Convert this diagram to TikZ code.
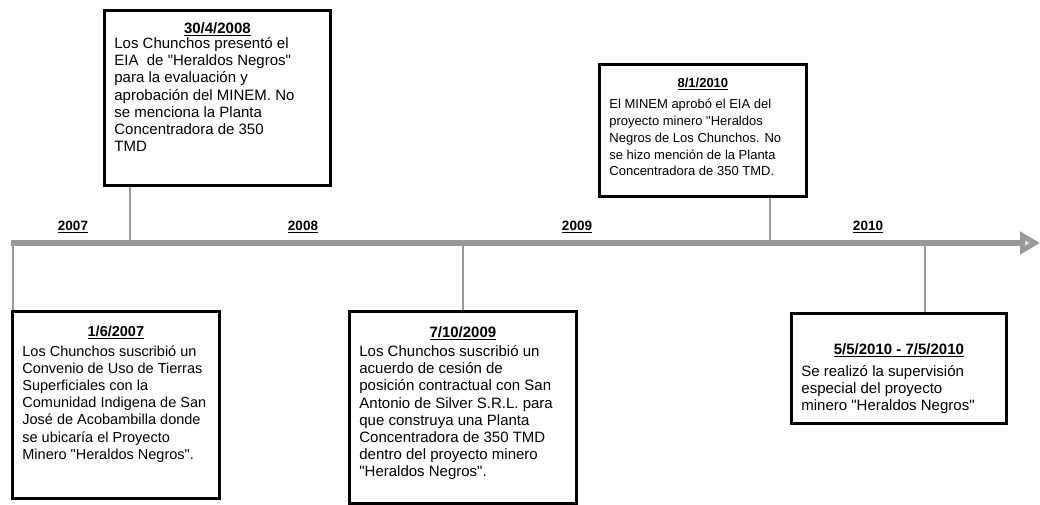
\documentclass[tikz,border=0pt]{standalone}
\usepackage{fontspec}
\setmainfont{Liberation Sans}[Ligatures=TeXOff]
\usetikzlibrary{arrows.meta}

\newcommand{\evhead}[2][2pt]{{\centering\underline{\textbf{#2}}\par}\vspace{#1}}

\begin{document}
\begin{tikzpicture}[
    x=1pt, y=-1pt,
    font=\fontsize{15}{17.2}\selectfont,
    evbox/.style={draw=black, line width=2.8pt, fill=white, anchor=north west,
        inner xsep=10pt, inner ysep=0pt},
    yearlbl/.style={font=\fontsize{13.5}{15}\selectfont\bfseries},
    link/.style={draw=black!40, line width=2.3pt},
]

\useasboundingbox (0,0) rectangle (1040,504);

% Time axis
\coordinate (axstart) at (11,243);
\coordinate (axend) at (1040,243);
\draw[black!40, line width=5.5pt, -{Triangle[length=20pt, width=22pt, fill=black!12]}] (axstart) -- (axend);

% Years
\node[yearlbl] (y2007) at (73,227) {\underline{2007}};
\node[yearlbl] (y2008) at (303,227) {\underline{2008}};
\node[yearlbl] (y2009) at (577,227) {\underline{2009}};
\node[yearlbl] (y2010) at (868,227) {\underline{2010}};

% Events above the axis
\node[evbox] (ev0408) at (103,9) {\parbox[c][175pt][t]{206pt}{\raggedright
    \vspace*{12pt}
    \evhead[-2pt]{30/4/2008}
    Los Chunchos presentó el\\
    EIA\ \ de "Heraldos Negros"\\
    para la evaluación y\\
    aprobación del MINEM. No\\
    se menciona la Planta\\
    Concentradora de 350\\
    TMD}};

\node[evbox] (ev0110) at (598,63) {\parbox[c][132pt][t]{187pt}{\raggedright
    \fontsize{13}{16.8}\selectfont
    \vspace*{14pt}
    \evhead[4pt]{8/1/2010}
    El MINEM aprobó el EIA del\\
    proyecto minero "Heraldos\\
    Negros de Los Chunchos. No\\
    se hizo mención de la Planta\\
    Concentradora de 350 TMD.}};

% Events below the axis
\node[evbox] (ev0607) at (11,310) {\parbox[c][187pt][t]{187pt}{\raggedright
    \fontsize{14.5}{17.2}\selectfont
    \vspace*{15pt}
    \evhead{1/6/2007}
    Los Chunchos suscribió un\\
    Convenio de Uso de Tierras\\
    Superficiales con la\\
    Comunidad Indigena de San\\
    José de Acobambilla donde\\
    se ubicaría el Proyecto\\
    Minero "Heraldos Negros".}};

\node[evbox] (ev1009) at (348,310) {\parbox[c][192pt][t]{207pt}{\raggedright
    \vspace*{15pt}
    \evhead{7/10/2009}
    Los Chunchos suscribió un\\
    acuerdo de cesión de\\
    posición contractual con San\\
    Antonio de Silver S.R.L. para\\
    que construya una Planta\\
    Concentradora de 350 TMD\\
    dentro del proyecto minero\\
    "Heraldos Negros".}};

\node[evbox] (ev0505) at (790,312) {\parbox[c][110pt][t]{195pt}{\raggedright
    \vspace*{30pt}
    \evhead[5pt]{5/5/2010 - 7/5/2010}
    Se realizó la supervisión\\
    especial del proyecto\\
    minero "Heraldos Negros"}};

% Links to the axis
\coordinate (t0607) at (13,243);
\coordinate (t0408) at (130,243);
\coordinate (t1009) at (463,243);
\coordinate (t0110) at (770,243);
\coordinate (t0505) at (925,243);

\draw[link] (t0607) -- (t0607 |- ev0607.north);
\draw[link] (t0408 |- ev0408.south) -- (t0408);
\draw[link] (t1009) -- (t1009 |- ev1009.north);
\draw[link] (t0110 |- ev0110.south) -- (t0110);
\draw[link] (t0505) -- (t0505 |- ev0505.north);

\end{tikzpicture}
\end{document}
